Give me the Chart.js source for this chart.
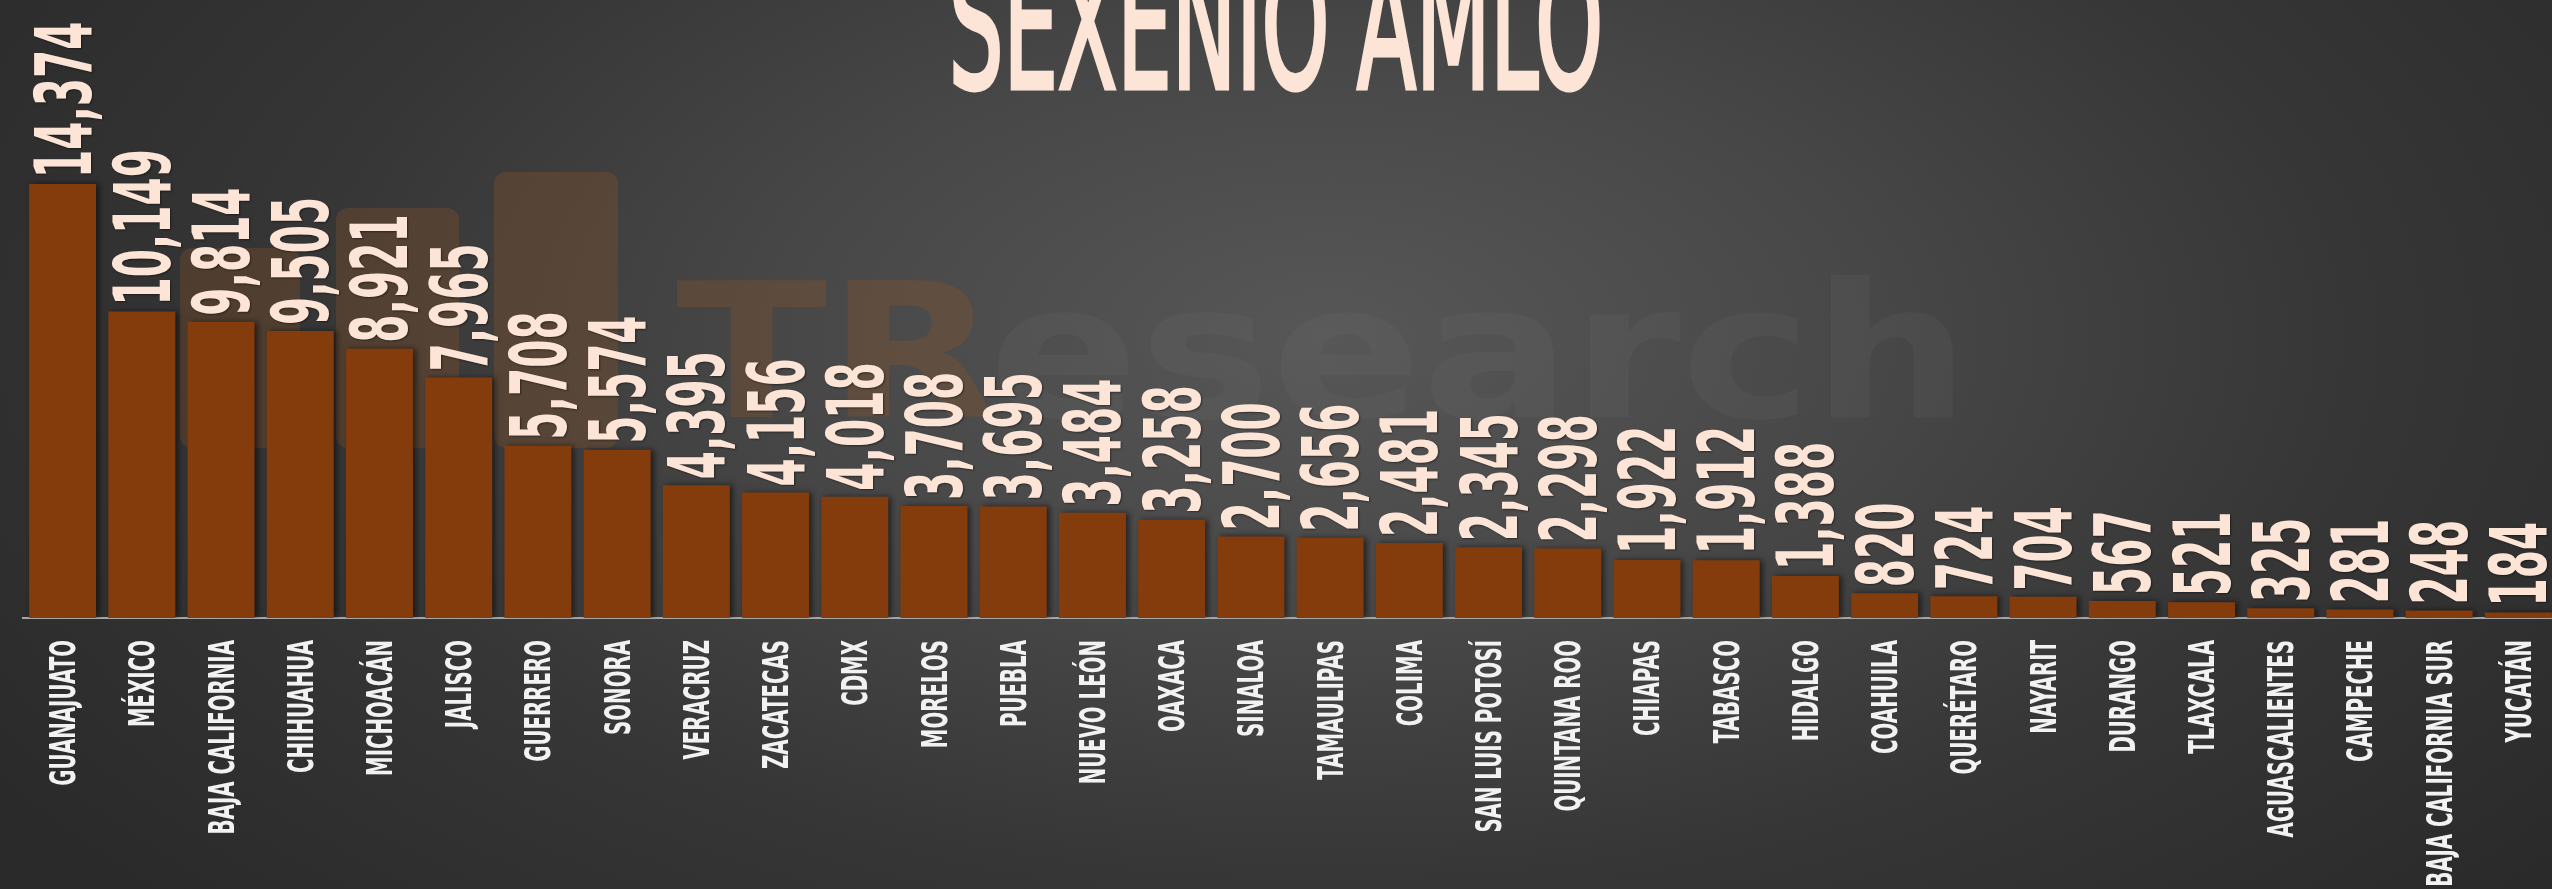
<!DOCTYPE html>
<html>
<head>
<meta charset="utf-8">
<script src="https://cdn.jsdelivr.net/npm/chart.js@4.4.1/dist/chart.umd.min.js"></script>
<style>
  html, body { margin: 0; padding: 0; width: 2552px; height: 889px; overflow: hidden; }
  body { background: radial-gradient(ellipse 62% 95% at 52% 38%, #575757 0%, #474747 35%, #363636 65%, #2a2a2a 100%); }
  #wrap { position: absolute; left: 0; top: 0; width: 2560px; height: 889px; }
</style>
</head>
<body>
<div id="wrap"><canvas id="chart" width="2560" height="889"></canvas></div>
<script>
// datos del sexenio
const titleText = 'SEXENIO AMLO';
const estados = ['GUANAJUATO', 'MÉXICO', 'BAJA CALIFORNIA', 'CHIHUAHUA', 'MICHOACÁN', 'JALISCO', 'GUERRERO', 'SONORA',
  'VERACRUZ', 'ZACATECAS', 'CDMX', 'MORELOS', 'PUEBLA', 'NUEVO LEÓN', 'OAXACA', 'SINALOA', 'TAMAULIPAS', 'COLIMA',
  'SAN LUIS POTOSÍ', 'QUINTANA ROO', 'CHIAPAS', 'TABASCO', 'HIDALGO', 'COAHUILA', 'QUERÉTARO', 'NAYARIT', 'DURANGO',
  'TLAXCALA', 'AGUASCALIENTES', 'CAMPECHE', 'BAJA CALIFORNIA SUR', 'YUCATÁN'];
const valores = [14374, 10149, 9814, 9505, 8921, 7965, 5708, 5574, 4395, 4156, 4018, 3708, 3695, 3484, 3258, 2700,
  2656, 2481, 2345, 2298, 1922, 1912, 1388, 820, 724, 704, 567, 521, 325, 281, 248, 184];

const fmt = n => n.toLocaleString('en-US');

// dibuja texto comprimido (fuente condensada simulada)
function squeezeText(ctx, text, x, y, rot, sx, align, stroke) {
    ctx.save();
    ctx.translate(x, y);
    ctx.rotate(rot);
    ctx.scale(sx, 1);
    ctx.textAlign = align;
    if (stroke) ctx.strokeText(text, 0, 0);
    ctx.fillText(text, 0, 0);
    ctx.restore();
}

function roundRect(ctx, x, y, w, h, r) {
    ctx.beginPath();
    ctx.moveTo(x + r, y);
    ctx.arcTo(x + w, y, x + w, y + h, r);
    ctx.arcTo(x + w, y + h, x, y + h, r);
    ctx.arcTo(x, y + h, x, y, r);
    ctx.arcTo(x, y, x + w, y, r);
    ctx.closePath();
    ctx.fill();
}

// marca de agua de fondo
const marcaAgua = {
    id: 'marcaAgua',
    beforeDatasetsDraw(chart) {
        const ctx = chart.ctx;
        ctx.save();
        ctx.fillStyle = 'rgba(150, 85, 35, 0.28)';
        roundRect(ctx, 180, 248, 120, 200, 12);
        roundRect(ctx, 336, 208, 123, 240, 12);
        roundRect(ctx, 494, 172, 124, 276, 12);
        ctx.font = 'bold 188px "DejaVu Sans"';
        ctx.textBaseline = 'alphabetic';
        ctx.save();
        ctx.translate(676, 417);
        ctx.scale(1.18, 1);
        ctx.textAlign = 'left';
        ctx.fillText('TR', 0, 0);
        const w = ctx.measureText('TR').width;
        ctx.fillStyle = 'rgba(130, 130, 130, 0.11)';
        ctx.fillText('esearch', w - 8, 0);
        ctx.restore();
        ctx.restore();
    }
};

const sombraBarras = {
    id: 'sombraBarras',
    beforeDatasetsDraw(chart) {
        const ctx = chart.ctx;
        ctx.save();
        ctx.shadowColor = 'rgba(0,0,0,0.55)';
        ctx.shadowBlur = 6;
        ctx.shadowOffsetX = 3;
        ctx.shadowOffsetY = 0;
    },
    afterDatasetsDraw(chart) {
        chart.ctx.restore();
    }
};

const textos = {
    id: 'textos',
    afterDraw(chart) {
        const ctx = chart.ctx;
        const xs = chart.scales.x;
        const meta = chart.getDatasetMeta(0);

        // titulo
        ctx.save();
        ctx.fillStyle = '#FCE4D6';
        ctx.strokeStyle = '#FCE4D6';
        ctx.lineWidth = 5;
        ctx.lineJoin = 'miter';
        ctx.font = '176px "DejaVu Sans"';
        ctx.textBaseline = 'alphabetic';
        squeezeText(ctx, titleText, 1276, 88, 0, 0.49, 'center', true);
        ctx.restore();

        // valores sobre cada barra
        ctx.save();
        ctx.fillStyle = '#FCE4D6';
        ctx.font = 'bold 78px "DejaVu Sans"';
        ctx.textBaseline = 'alphabetic';
        ctx.shadowColor = 'rgba(0,0,0,0.45)';
        ctx.shadowOffsetX = 1;
        ctx.shadowOffsetY = 1;
        ctx.shadowBlur = 2;
        meta.data.forEach((bar, i) => {
            squeezeText(ctx, fmt(valores[i]), bar.x + 28, bar.y - 6, -Math.PI / 2, 0.52, 'left');
        });
        ctx.restore();

        // nombres de estados
        ctx.save();
        ctx.fillStyle = '#F2F2F2';
        ctx.font = 'bold 35px "DejaVu Sans"';
        ctx.textBaseline = 'alphabetic';
        estados.forEach((e, i) => {
            const x = xs.getPixelForValue(i);
            squeezeText(ctx, e, x + 12.5, 640, -Math.PI / 2, 0.565, 'right');
        });
        ctx.restore();
    }
};

const ctx = document.getElementById('chart').getContext('2d');
new Chart(ctx, {
    type: 'bar',
    data: {
        labels: estados,
        datasets: [{
            data: valores,
            backgroundColor: '#843C0C',
            borderWidth: 0,
            categoryPercentage: 1,
            barPercentage: 0.845
        }]
    },
    options: {
        responsive: false,
        animation: false,
        devicePixelRatio: 1,
        layout: { padding: { left: 23, right: 2, top: 0, bottom: 0 } },
        plugins: {
            legend: { display: false },
            tooltip: { enabled: false }
        },
        scales: {
            x: {
                grid: { display: false },
                ticks: { display: false },
                border: { display: true, color: '#A6A6A6', width: 2 },
                afterFit(scale) { scale.height = 271; }
            },
            y: {
                display: false,
                min: 0,
                max: 20470
            }
        }
    },
    plugins: [marcaAgua, sombraBarras, textos]
});
</script>
</body>
</html>
